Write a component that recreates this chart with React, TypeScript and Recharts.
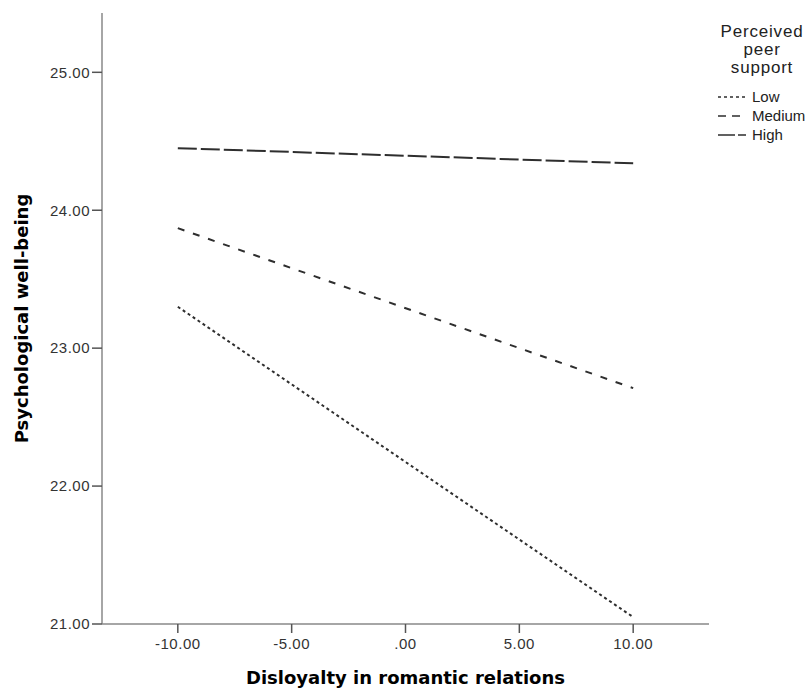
import { LineChart, Line, XAxis, YAxis, Legend, Label } from 'recharts'

const X_VALUES = [-10, 10]
const LOW = [23.3, 21.05]
const MEDIUM = [23.87, 22.71]
const HIGH = [24.45, 24.34]
const X_TICKS = [-10, -5, 0, 5, 10]
const Y_TICKS = [21, 22, 23, 24, 25]
const LEGEND_TITLE = ['Perceived', 'peer', 'support']

const data = X_VALUES.map((x, i) => ({ x, Low: LOW[i], Medium: MEDIUM[i], High: HIGH[i] }))

const LINE_COLOR = '#2e2e2e'
const AXIS_COLOR = '#888888'
const TICK_FONT = '"Liberation Sans", Arial, sans-serif'
const TITLE_FONT = '"DejaVu Sans", Verdana, sans-serif'

const fmt = (v: number) => (v === 0 ? '.00' : v.toFixed(2))

const LEGEND_DASH: Record<string, string> = {
  Low: '3 3',
  Medium: '8 6',
  High: '17 3',
}

function PeerLegend() {
  const items = ['Low', 'Medium', 'High']
  return (
    <svg width={108} height={150} style={{ display: 'block' }}>
      {LEGEND_TITLE.map((t, i) => (
        <text
          key={t}
          x={62}
          y={37 + i * 18}
          textAnchor="middle"
          fontFamily={TICK_FONT}
          fontSize={17}
          letterSpacing={0.8}
          fill="#222"
        >
          {t}
        </text>
      ))}
      {items.map((name, i) => (
        <g key={name}>
          <line
            x1={18}
            x2={46}
            y1={97 + i * 19}
            y2={97 + i * 19}
            stroke={LINE_COLOR}
            strokeWidth={1.6}
            strokeDasharray={LEGEND_DASH[name]}
          />
          <text x={52} y={102 + i * 19} fontFamily={TICK_FONT} fontSize={15} fill="#222">
            {name}
          </text>
        </g>
      ))}
    </svg>
  )
}

const tickStyle = { fill: '#333', fontSize: 15, fontFamily: TICK_FONT, letterSpacing: 0.5 }

export default function App() {
  return (
    <div style={{ position: 'absolute', left: 0, top: 0, background: '#fff' }}>
      <LineChart width={808} height={689} data={data} margin={{ top: 13, right: 99, bottom: 0, left: 0 }}>
        <XAxis
          dataKey="x"
          type="number"
          domain={[-13.33, 13.33]}
          ticks={X_TICKS}
          tickFormatter={fmt}
          height={65}
          stroke={AXIS_COLOR}
          strokeWidth={1.5}
          tickSize={9}
          tickMargin={5}
          tickLine={{ stroke: '#555', strokeWidth: 1.5 }}
          tick={tickStyle}
          allowDataOverflow
        >
          <Label
            content={({ viewBox }: any) => (
              <text
                x={viewBox.x + viewBox.width / 2}
                y={viewBox.y + 60}
                textAnchor="middle"
                fontFamily={TITLE_FONT}
                fontWeight="bold"
                fontSize={18}
                fill="#000"
              >
                Disloyalty in romantic relations
              </text>
            )}
          />
        </XAxis>
        <YAxis
          type="number"
          domain={[21, 25.43]}
          ticks={Y_TICKS}
          tickFormatter={(v: number) => v.toFixed(2)}
          width={102}
          stroke={AXIS_COLOR}
          strokeWidth={1.5}
          tickSize={10}
          tickMargin={2}
          tickLine={{ stroke: '#555', strokeWidth: 1.5 }}
          tick={tickStyle}
          allowDataOverflow
        >
          <Label
            content={({ viewBox }: any) => {
              const cx = viewBox.x + 28
              const cy = viewBox.y + viewBox.height / 2
              return (
                <text
                  x={cx}
                  y={cy}
                  transform={`rotate(-90, ${cx}, ${cy})`}
                  textAnchor="middle"
                  fontFamily={TITLE_FONT}
                  fontWeight="bold"
                  fontSize={18}
                  fill="#000"
                >
                  Psychological well-being
                </text>
              )
            }}
          />
        </YAxis>
        <Legend
          layout="vertical"
          align="center"
          verticalAlign="middle"
          wrapperStyle={{ left: 700, top: 0, width: 108, height: 150 }}
          content={() => <PeerLegend />}
        />
        <Line dataKey="Low" stroke={LINE_COLOR} strokeWidth={2} strokeDasharray="3 3" dot={false} isAnimationActive={false} />
        <Line dataKey="Medium" stroke={LINE_COLOR} strokeWidth={2} strokeDasharray="7 9" dot={false} isAnimationActive={false} />
        <Line dataKey="High" stroke={LINE_COLOR} strokeWidth={2} strokeDasharray="19 4" dot={false} isAnimationActive={false} />
      </LineChart>
    </div>
  )
}
